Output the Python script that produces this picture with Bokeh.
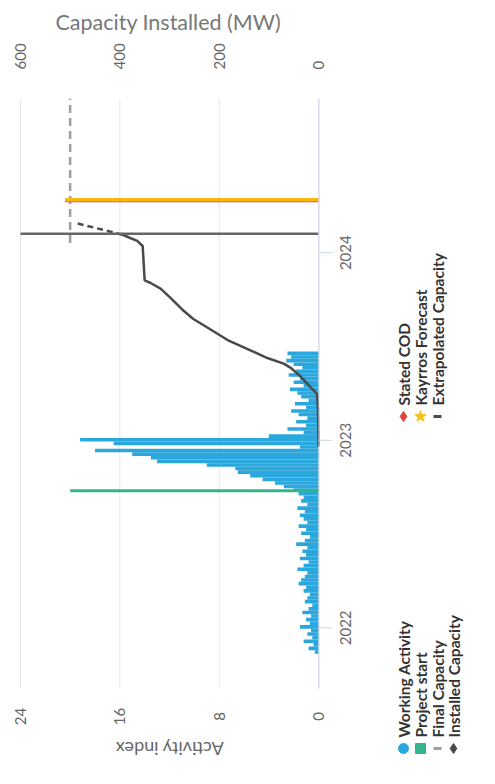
import math
import pandas as pd
from bokeh.plotting import figure
from bokeh.models import Range1d, FixedTicker, LinearAxis, Title
from bokeh.embed import file_html
from bokeh.resources import INLINE
from bokeh.core.properties import value

FONT = "Lato"

# ---------------- data ----------------
activity_start = "2021-11-15"
activity = [
    0.3, 0.8, 0.4, 1.2, 0.5, 0.9, 0.6, 1.5, 0.7, 1.0,
    0.6, 1.3, 0.8, 0.5, 1.1, 0.9, 0.7, 1.2, 1.0, 1.6,
    1.4, 1.1, 0.9, 1.7, 1.2, 0.8, 1.5, 1.0, 1.3, 0.9,
    1.8, 1.1, 0.7, 1.4, 1.0, 1.6, 0.9, 1.2, 1.5, 1.1,
    1.7, 0.9, 1.4, 1.2, 1.6,
    2.0, 2.8, 3.5, 4.5, 5.5, 6.5, 6.7, 9.0, 13.0, 13.5,
    15.0, 18.0, 1.5, 16.5, 19.2, 4.0, 1.2, 2.5, 1.0, 1.8,
    0.9, 1.6, 2.2, 1.0, 1.9, 0.8, 1.4, 1.7, 2.3, 1.2,
    2.0, 1.5, 2.4, 1.8, 1.3, 2.0, 2.6, 2.2, 2.5,
]
activity_dates = pd.date_range(activity_start, periods=len(activity), freq="7D")

installed_dates = ["2022-12-20", "2023-03-01", "2023-04-01", "2023-05-05", "2023-05-22",
                   "2023-05-30", "2023-06-10", "2023-06-25", "2023-07-15", "2023-08-08",
                   "2023-08-25", "2023-09-12", "2023-10-05", "2023-10-23", "2023-11-03",
                   "2023-11-08", "2024-01-14", "2024-01-24", "2024-02-01", "2024-02-05"]
installed_mw = [0, 1, 3, 36, 56, 70, 103, 137, 183, 223,
                252, 274, 298, 318, 338, 350, 354, 365, 385, 395]

extrap_dates = ["2024-02-05", "2024-02-28"]
extrap_mw = [395, 490]

final_capacity_mw = 500
final_capacity_dates = ["2024-01-20", "2024-10-27"]

project_start_date = "2022-09-25"
project_start_mw = 500
latest_obs_date = "2024-02-07"
stated_cod_date = "2024-04-11"
kayrros_forecast_date = "2024-04-13"
forecast_mw = 510

time_start, time_end = "2021-09-05", "2024-10-27"
time_ticks = ["2022-01-01", "2023-01-01", "2024-01-01"]
time_tick_labels = ["2022", "2023", "2024"]
activity_ticks = [0, 8, 16, 24]
activity_tick_labels = ["0", "8", "16", "24"]
capacity_ticks = [0, 200, 400, 600]

legend_labels_1 = ["Working Activity", "Project start", "Final Capacity", "Installed Capacity"]
legend_markers_1 = ["circle", "square", "dash", "diamond"]
legend_colors_1 = ["#2aa7dc", "#34b48c", "#9e9e9e", "#4a4a4a"]
legend_labels_2 = ["Stated COD", "Kayrros Forecast", "Extrapolated Capacity"]
legend_markers_2 = ["diamond", "star", "dash"]
legend_colors_2 = ["#e5403a", "#f9c01a", "#4a4a4a"]

# ---------------- layout (page pixels) ----------------
OX, OY = 0, 0                      # where the figure's top-left lands on the page
W, H = 490, 780
FRAME_L = OX                       # frame spans the whole width ...
FRAME_R = OX + W - 2
FRAME_T = 98                       # ... from the top axis down to the bottom
FRAME_B = OY + H
GRID_L = 20                        # page x of activity 24 / capacity 600
ZERO_X = 318                       # page x of activity 0 / capacity 0
PLOT_B = 688                       # bottom of the data area

ACT_MAX, CAP_MAX = 24, 600
act_left = ACT_MAX * (ZERO_X - FRAME_L) / (ZERO_X - GRID_L)
act_right = ACT_MAX * (ZERO_X - FRAME_R) / (ZERO_X - GRID_L)
cap_left = CAP_MAX * (ZERO_X - FRAME_L) / (ZERO_X - GRID_L)
cap_right = CAP_MAX * (ZERO_X - FRAME_R) / (ZERO_X - GRID_L)

t0 = pd.Timestamp(time_start)
t1 = pd.Timestamp(time_end)
ms0, ms1 = t0.value / 1e6, t1.value / 1e6
mpp = (ms1 - ms0) / (PLOT_B - FRAME_T)
y_start = ms0 - (FRAME_B - PLOT_B) * mpp

p = figure(width=W, height=H,
           x_range=Range1d(act_left, act_right),
           y_range=Range1d(y_start, ms1),
           x_axis_location=None, y_axis_location=None,
           output_backend="svg", toolbar_location=None,
           min_border_left=0, min_border_right=OX + W - FRAME_R,
           min_border_top=FRAME_T - OY, min_border_bottom=0)
p.outline_line_color = None
p.grid.visible = False
p.extra_x_ranges = {"cap": Range1d(cap_left, cap_right), "px": Range1d(FRAME_L, FRAME_R)}
p.extra_y_ranges = {"py": Range1d(-FRAME_B, -FRAME_T)}

# top axis: capacity
cap_axis = LinearAxis(x_range_name="cap", ticker=FixedTicker(ticks=capacity_ticks))
cap_axis.axis_line_color = None
cap_axis.major_tick_line_color = None
cap_axis.minor_tick_line_color = None
cap_axis.major_label_orientation = math.pi / 2
cap_axis.major_label_text_font = FONT
cap_axis.major_label_text_font_size = "15px"
cap_axis.major_label_text_color = "#666666"
cap_axis.major_label_standoff = 23
p.add_layout(cap_axis, "above")
p.add_layout(Title(text="Capacity Installed (MW)", align="left", offset=55 - FRAME_L,
                   text_font=FONT, text_font_size="21.5px", text_font_style="normal",
                   text_color="#777777", standoff=11), "above")

# vertical grid lines of the activity / capacity axes
p.segment(x0=activity_ticks, y0=[-PLOT_B] * 4, x1=activity_ticks, y1=[-FRAME_T] * 4,
          y_range_name="py", line_color="#e6e6e6", line_width=1)

# activity index tick labels and title (below the data area, rotated)
p.text(x=activity_ticks, y=[-716] * 4, text=activity_tick_labels, y_range_name="py",
       angle=math.pi / 2, text_align="center", text_baseline="middle",
       text_font=value(FONT), text_font_size="15px", text_color="#666666")
p.text(x=[(GRID_L + ZERO_X) / 2], y=[-748], text=["Activity index"],
       x_range_name="px", y_range_name="py", angle=math.pi,
       text_align="center", text_baseline="middle",
       text_font=value(FONT), text_font_size="18px", text_color="#666666")

week_ms = 7 * 24 * 3600 * 1000

# activity bars
p.hbar(y=activity_dates, left=0, right=activity, height=week_ms,
       fill_color="#2aa7dc", line_color=None)

ps = pd.Timestamp(project_start_date)
p.line(x=[0, project_start_mw], y=[ps, ps], x_range_name="cap",
       line_color="#34b48c", line_width=3)
p.line(x=installed_mw, y=pd.to_datetime(installed_dates), x_range_name="cap",
       line_color="#4a4a4a", line_width=2.5)
p.line(x=extrap_mw, y=pd.to_datetime(extrap_dates), x_range_name="cap",
       line_color="#4a4a4a", line_width=2.5, line_dash="6 4")
p.line(x=[final_capacity_mw, final_capacity_mw], y=pd.to_datetime(final_capacity_dates),
       x_range_name="cap", line_color="#9e9e9e", line_width=2.5, line_dash="8 5")
lo = pd.Timestamp(latest_obs_date)
p.line(x=[0, CAP_MAX], y=[lo, lo], x_range_name="cap", line_color="#666666", line_width=2.5)
sc = pd.Timestamp(stated_cod_date)
p.line(x=[0, forecast_mw], y=[sc, sc], x_range_name="cap", line_color="#e5403a", line_width=3)
kf = pd.Timestamp(kayrros_forecast_date)
p.line(x=[0, forecast_mw], y=[kf, kf], x_range_name="cap", line_color="#f9b90f", line_width=3.5)

# ---------------- time axis (rotated, at activity 0) ----------------
tick_ms = [pd.Timestamp(t).value / 1e6 for t in time_ticks]
p.segment(x0=[ZERO_X + 0.5], y0=[ms0], x1=[ZERO_X + 0.5], y1=[ms1], x_range_name="px",
          line_color="#ccd6eb", line_width=1)
p.segment(x0=[ZERO_X] * 3, y0=tick_ms, x1=[ZERO_X + 14] * 3, y1=tick_ms, x_range_name="px",
          line_color="#ccd6eb", line_width=1)
p.text(x=[ZERO_X + 27] * 3, y=tick_ms, text=time_tick_labels, x_range_name="px",
       angle=math.pi / 2, text_align="center", text_baseline="middle",
       text_font=value(FONT), text_font_size="15px", text_color="#666666")

# ---------------- legend (rotated) ----------------
col_x = [403, 420, 437, 453]
groups = [
    (748, 737, legend_labels_1, legend_markers_1, legend_colors_1),
    (416, 405, legend_labels_2, legend_markers_2, legend_colors_2),
]
for marker_y, text_y, labels, markers, colors in groups:
    for i, (lab, mk, c) in enumerate(zip(labels, markers, colors)):
        xc = col_x[i]
        if mk == "dash":
            p.segment(x0=[xc - 4], y0=[-marker_y], x1=[xc + 4], y1=[-marker_y],
                      x_range_name="px", y_range_name="py", line_color=c, line_width=3)
        else:
            p.scatter([xc], [-marker_y], marker=mk, size=12 if mk == "star" else 10,
                      fill_color=c, line_color=c, x_range_name="px", y_range_name="py")
        p.text([xc], [-text_y], text=[lab], angle=math.pi / 2, text_align="left",
               text_baseline="middle", text_font=value(FONT), text_font_size="15.5px",
               text_font_style="bold", text_color="#333333",
               x_range_name="px", y_range_name="py")

open("out.html", "w").write(file_html(p, INLINE))
